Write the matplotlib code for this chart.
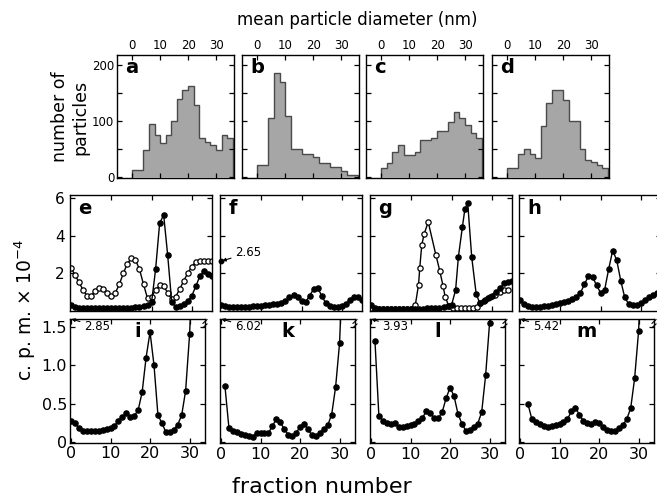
import numpy as np
import matplotlib.pyplot as plt

plt.rcParams['font.family'] = ['DejaVu Sans']

W, H = 657, 499

# particle counts per 2 nm diameter bin, 0-36 nm
hist_a = [12, 12, 48, 94, 75, 60, 75, 99, 140, 155, 162, 128, 70, 63, 57, 48, 75, 69]
hist_b = [21, 21, 106, 185, 169, 109, 50, 50, 41, 41, 35, 24, 24, 18, 18, 10, 3, 3]
hist_c = [16, 25, 44, 56, 39, 39, 44, 66, 66, 70, 81, 81, 98, 116, 106, 93, 79, 69]
hist_d = [16, 16, 41, 49, 41, 33, 91, 132, 156, 156, 138, 99, 99, 49, 30, 26, 21, 15]
bin_width = 2

# c.p.m. x 10^-4 per fraction (middle row, fractions 0-35)
e_open = [2.27, 1.9, 1.5, 1.1, 0.78, 0.8, 1.05, 1.2, 1.15, 0.95, 0.78, 0.95, 1.4, 2.0,
          2.5, 2.8, 2.7, 2.2, 1.4, 0.65, 0.75, 1.1, 1.35, 1.3, 0.95, 0.6, 0.75, 1.15,
          1.6, 2.0, 2.35, 2.6, 2.62, 2.62, 2.62, 2.62]
e_filled = [0.3, 0.18, 0.15, 0.14, 0.13, 0.13, 0.13, 0.13, 0.13, 0.13, 0.13, 0.14, 0.14,
            0.15, 0.15, 0.16, 0.18, 0.2, 0.25, 0.32, 0.45, 2.2, 4.65, 5.1, 2.95, 0.45,
            0.2, 0.25, 0.35, 0.5, 0.8, 1.3, 1.85, 2.1, 1.95, 1.85]
f_filled = [0.32, 0.25, 0.2, 0.18, 0.18, 0.18, 0.2, 0.2, 0.22, 0.24, 0.26, 0.28, 0.3,
            0.33, 0.36, 0.4, 0.5, 0.7, 0.85, 0.7, 0.5, 0.45, 0.8, 1.15, 1.2, 0.8, 0.4,
            0.22, 0.2, 0.2, 0.25, 0.35, 0.55, 0.75, 0.7, 0.55]
f_note = 2.65
g_open_x = [0, 1, 2, 3, 4, 5, 6, 7, 8, 9, 10, 11, 11.8, 12.1, 12.6, 13.2, 14.2, 16.1, 17.1,
            17.9, 18.4, 19.3, 20.3, 21.3, 22.3, 23.3, 24.3, 25.3, 26.3, 27, 28.3, 29.5,
            30.8, 32, 33.1, 34.1]
g_open = [0.12, 0.1, 0.1, 0.1, 0.1, 0.1, 0.1, 0.1, 0.1, 0.1, 0.1, 0.3, 1.38, 2.27, 3.5,
          4.09, 4.72, 2.97, 2.09, 1.29, 0.75, 0.25, 0.15, 0.15, 0.15, 0.15, 0.15, 0.15,
          0.18, 0.4, 0.58, 0.73, 0.85, 1.0, 1.08, 1.1]
g_filled_x = [0, 1, 2, 3, 4, 5, 6, 7, 8, 9, 10, 11, 12, 13, 14, 15, 16, 17, 18, 19, 20,
              21, 21.7, 22.7, 23.3, 24, 25, 26.1, 27, 28, 29, 30, 31, 32, 33, 34, 35]
g_filled = [0.3, 0.15, 0.1, 0.1, 0.1, 0.1, 0.1, 0.1, 0.1, 0.1, 0.1, 0.1, 0.1, 0.1, 0.12,
            0.12, 0.14, 0.15, 0.18, 0.22, 0.3, 1.1, 2.88, 4.48, 5.4, 5.75, 2.85, 0.9, 0.4,
            0.5, 0.65, 0.8, 1.0, 1.2, 1.45, 1.55, 1.6]
h_filled = [0.58, 0.35, 0.22, 0.18, 0.18, 0.2, 0.22, 0.27, 0.32, 0.36, 0.4, 0.45, 0.52,
            0.62, 0.75, 0.95, 1.4, 1.85, 1.8, 1.35, 0.95, 1.1, 2.2, 3.2, 2.7, 1.6, 0.7,
            0.35, 0.3, 0.32, 0.38, 0.55, 0.75, 0.85, 0.95]

# bottom row, fractions from 0; last value lies above the axis
i_filled = [0.28, 0.25, 0.18, 0.15, 0.14, 0.14, 0.14, 0.15, 0.16, 0.17, 0.18, 0.21, 0.28,
            0.33, 0.38, 0.33, 0.34, 0.42, 0.65, 1.1, 1.43, 1.0, 0.35, 0.25, 0.13, 0.13,
            0.16, 0.23, 0.35, 0.67, 1.4, 2.6]
k_filled = [np.nan, 0.73, 0.19, 0.15, 0.13, 0.11, 0.09, 0.08, 0.07, 0.12, 0.12, 0.12, 0.12,
            0.21, 0.3, 0.26, 0.17, 0.1, 0.08, 0.12, 0.2, 0.24, 0.17, 0.09, 0.08, 0.12, 0.17,
            0.22, 0.36, 0.72, 1.29, 2.6]
l_filled = [np.nan, 1.32, 0.34, 0.28, 0.25, 0.24, 0.25, 0.2, 0.2, 0.21, 0.22, 0.24, 0.27,
            0.31, 0.41, 0.38, 0.31, 0.31, 0.39, 0.57, 0.71, 0.6, 0.37, 0.24, 0.15, 0.16,
            0.2, 0.24, 0.39, 0.87, 1.55, 2.6]
m_filled = [np.nan, np.nan, 0.5, 0.3, 0.26, 0.24, 0.21, 0.2, 0.21, 0.23, 0.24, 0.26, 0.3,
            0.4, 0.45, 0.36, 0.28, 0.25, 0.24, 0.26, 0.25, 0.2, 0.16, 0.14, 0.14, 0.18,
            0.22, 0.3, 0.44, 0.83, 1.44, 2.6]
bottom_notes = {'i': 2.85, 'k': 6.02, 'l': 3.93, 'm': 5.42}


fig = plt.figure(figsize=(W / 100, H / 100), dpi=100)


def px_axes(left, top, width, height):
    return fig.add_axes([left / W, 1 - (top + height) / H, width / W, height / H])


def frame(ax):
    for s in ax.spines.values():
        s.set_linewidth(1.0)
    ax.tick_params(direction='in', length=3.5, width=0.9, top=True, right=True)


def trace(ax, x, y, ymax, open_marker=False):
    x = np.asarray(x, float)
    y = np.asarray(y, float)
    ax.plot(x, y, '-', color='k', lw=1.0)
    ok = y <= ymax
    ax.plot(x[ok], y[ok], 'o', ms=3.8, mec='k', mew=0.9,
            mfc='white' if open_marker else 'k')


# ---- top row: size histograms
hists = [hist_a, hist_b, hist_c, hist_d]
for n, (left, vals, letter) in enumerate(zip([117, 242, 366, 492], hists, 'abcd')):
    ax = px_axes(left, 55, 117, 123)
    edges = np.arange(0, bin_width * len(vals) + 1, bin_width)
    ax.stairs(vals, edges, fill=True, facecolor='#a6a6a6', edgecolor='#4a4a4a', lw=1.0)
    ax.set_xlim(-5.4, 36.4)
    ax.set_ylim(-2.3, 218)
    frame(ax)
    ax.tick_params(labeltop=True, labelbottom=False, labelsize=8.5, pad=2)
    ax.set_xticks([0, 10, 20, 30])
    ax.set_yticks([0, 50, 100, 150, 200])
    if n == 0:
        ax.set_yticklabels(['0', '', '100', '', '200'])
    else:
        ax.set_yticklabels([])
    ax.text(0.07, 0.9, letter, transform=ax.transAxes, fontsize=14,
            fontweight='heavy', va='center', ha='left')

fig.text(357 / W, 1 - 20 / H, 'mean particle diameter (nm)', ha='center',
         va='center', fontsize=12)
fig.text(70 / W, 1 - 117 / H, 'number of\nparticles', ha='center', va='center',
         rotation=90, fontsize=12.5, linespacing=1.15)

# ---- middle row
fr35 = np.arange(36)
mid = []
for left in [70, 220, 370, 519]:
    ax = px_axes(left, 195, 142, 116)
    ax.set_xlim(-0.25, 35)
    ax.set_ylim(-0.02, 6.16)
    frame(ax)
    ax.set_xticks([10, 20, 30])
    ax.set_yticks([2, 4, 6])
    ax.tick_params(labelbottom=False, labelleft=False, labelsize=11, pad=4)
    mid.append(ax)
ae, af, ag, ah = mid
ae.tick_params(labelleft=True)

trace(ae, fr35, e_open, 6.16, open_marker=True)
trace(ae, fr35, e_filled, 6.16)
trace(af, fr35, f_filled, 6.16)
af.plot([0], [f_note], 'o', ms=3.2, color='k', clip_on=False)
af.annotate('%.2f' % f_note, xy=(0.3, f_note), xytext=(3.5, 3.08), fontsize=8.5,
            va='center', arrowprops=dict(arrowstyle='-|>', lw=0.8, color='k',
                                         mutation_scale=5, shrinkA=1, shrinkB=0))
trace(ag, g_open_x, g_open, 6.16, open_marker=True)
trace(ag, g_filled_x, g_filled, 6.16)
trace(ah, np.arange(len(h_filled)), h_filled, 6.16)
for ax, letter in zip(mid, 'efgh'):
    ax.text(0.06, 0.88, letter, transform=ax.transAxes, fontsize=14,
            fontweight='heavy', va='center', ha='left')

# ---- bottom row
bot = []
for left in [70, 220, 370, 519]:
    ax = px_axes(left, 319, 135, 124)
    ax.set_xlim(-0.25, 33.9)
    ax.set_ylim(-0.01, 1.6)
    frame(ax)
    ax.set_xticks([0, 10, 20, 30])
    ax.set_yticks([0, 0.5, 1.0, 1.5])
    ax.tick_params(labelleft=False, labelsize=11.5, pad=3)
    bot.append(ax)
bot[0].tick_params(labelleft=True, pad=2)
bot[0].set_yticklabels(['0', '0.5', '1.0', '1.5'])

for ax, vals, letter, tx in zip(bot, [i_filled, k_filled, l_filled, m_filled], 'iklm',
                                [3.3, 3.5, 2.9, 3.2]):
    trace(ax, np.arange(len(vals)), vals, 1.6)
    ax.text(0.5, 0.9, letter, transform=ax.transAxes, fontsize=14,
            fontweight='heavy', va='center', ha='center')
    ax.annotate('%.2f' % bottom_notes[letter], xy=(0.1, 1.6), xytext=(tx, 1.5),
                fontsize=8.5, va='center',
                arrowprops=dict(arrowstyle='-|>', lw=0.8, color='k', mutation_scale=5,
                                shrinkA=1, shrinkB=0))
    # broken-axis mark on the right edge
    for dy in (0.0, 0.035):
        ax.plot([0.985, 1.015], [0.93 + dy, 0.96 + dy], color='k', lw=0.8,
                transform=ax.transAxes, clip_on=False)

fig.text(25 / W, 1 - 310 / H, r'c. p. m. $\times$ 10$^{-4}$', rotation=90,
         ha='center', va='center', fontsize=13.5)
fig.text(322 / W, 1 - 487 / H, 'fraction number', ha='center', va='center',
         fontsize=16)

fig.savefig('out.png', dpi=100)
